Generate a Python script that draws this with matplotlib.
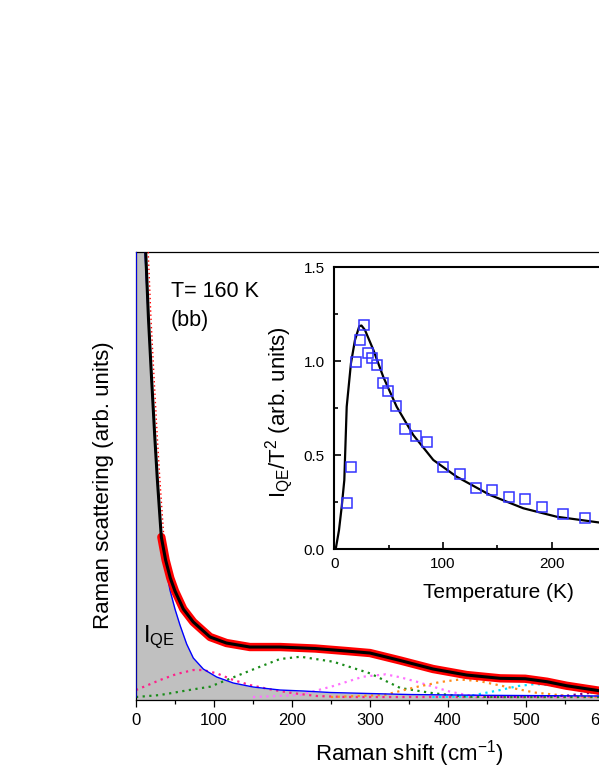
import matplotlib
matplotlib.use("Agg")
import matplotlib.pyplot as plt
import matplotlib.transforms as mtransforms
from matplotlib.ticker import MultipleLocator

plt.rcParams['font.family'] = ['Liberation Sans', 'DejaVu Sans']
plt.rcParams['mathtext.fontset'] = 'custom'
plt.rcParams['mathtext.rm'] = 'Liberation Sans'
plt.rcParams['mathtext.it'] = 'Liberation Sans:italic'
plt.rcParams['mathtext.bf'] = 'Liberation Sans:bold'

# ---- main panel: Raman spectrum at 160 K, (bb) ----
# quasi-elastic component I_QE
shift_qe = [0, 0.3, 11.5, 16, 20, 24, 27.3, 32.5, 38, 43.6, 50, 56.4, 65, 73.5, 86.3,
            103.5, 124.8, 150.4, 184.6, 215, 250, 300, 350, 450, 600, 700]
int_qe = [0.0, 4.60, 4.45, 3.77, 3.17, 2.60, 2.17, 1.60, 1.30, 1.07, 0.88, 0.72, 0.53, 0.39, 0.28,
          0.20, 0.14, 0.10, 0.07, 0.06, 0.045, 0.035, 0.025, 0.017, 0.01, 0.008]

# measured spectrum and total fit
shift_spec = [12.5, 16, 20, 24, 27.3, 32.5, 38, 44, 50, 60.7, 73.5, 95, 116, 146, 185, 230,
              270, 300, 339, 381, 424, 467, 499, 527, 552, 594, 620]
int_spec = [4.45, 3.79, 3.19, 2.62, 2.19, 1.60, 1.37, 1.19, 1.06, 0.88, 0.75, 0.60, 0.54, 0.50,
            0.50, 0.485, 0.46, 0.44, 0.365, 0.28, 0.22, 0.187, 0.183, 0.153, 0.113, 0.063, 0.04]
n_steep = 5  # first points on the steep flank, where the data are sparse

# phonon / excitation components (dotted)
shift_p1 = [0, 30.8, 52, 73.5, 86, 103.5, 124.8, 146, 171.8, 200, 232, 270, 700]
int_p1 = [0.07, 0.17, 0.23, 0.27, 0.27, 0.237, 0.17, 0.12, 0.077, 0.04, 0.01, 0.0, 0.0]

shift_p2 = [0, 30.8, 73.5, 94.9, 116.3, 137.6, 159, 184.6, 211, 253, 300, 339, 382, 425, 470, 700]
int_p2 = [0.0, 0.02, 0.077, 0.103, 0.17, 0.237, 0.303, 0.38, 0.403, 0.353, 0.237, 0.09, 0.037,
          0.003, 0.0, 0.0]

shift_p3 = [150, 210, 253, 291, 320, 339, 360, 381, 403, 424, 468, 700]
int_p3 = [0.0, 0.02, 0.11, 0.203, 0.227, 0.197, 0.153, 0.103, 0.053, 0.02, 0.0, 0.0]

shift_p4 = [250, 318, 361, 390, 415, 440, 467, 511, 554, 600, 700]
int_p4 = [0.0, 0.02, 0.103, 0.15, 0.175, 0.16, 0.115, 0.045, 0.01, 0.0, 0.0]

shift_p5 = [380, 424, 467, 490, 512, 535, 552, 575, 594, 620]
int_p5 = [0.0, 0.005, 0.07, 0.11, 0.13, 0.115, 0.095, 0.055, 0.025, 0.01]

shift_p6 = [450, 520, 554, 575, 595, 620]
int_p6 = [0.0, 0.005, 0.015, 0.035, 0.053, 0.08]

comp_colors = ['#ff1f8a', '#1a8c1a', '#ff70ff', '#ff8c1a', '#00e0ff', '#800080']

# ---- inset: I_QE / T^2 vs temperature ----
temp_data = [12, 15.6, 20, 23.6, 27.3, 30.7, 35, 39, 45, 49.6, 56.4, 65, 74.8, 85, 100.2,
             115.5, 130.5, 145, 160.3, 175.2, 190.6, 210.5, 230.7]
iqe_data = [0.243, 0.438, 0.994, 1.113, 1.193, 1.045, 1.019, 0.980, 0.886, 0.843, 0.763, 0.637,
            0.603, 0.568, 0.438, 0.398, 0.327, 0.316, 0.277, 0.268, 0.225, 0.188, 0.163]

temp_fit = [1.3, 4.3, 6.8, 9.2, 11.4, 15.3, 19, 23, 25, 28.2, 35.9, 45, 57.3, 72.6, 91, 112.5,
            143, 173.7, 204.4, 245]
iqe_fit = [0.0, 0.10, 0.225, 0.367, 0.758, 0.989, 1.113, 1.187, 1.19, 1.166, 1.06, 0.917, 0.758,
           0.607, 0.474, 0.385, 0.288, 0.217, 0.172, 0.140]


fig = plt.figure(figsize=(5.99, 7.76), dpi=100)
ax = fig.add_axes([0.2270, 0.0979, 0.9115, 0.5773])
ax.set_xlim(0, 700)
ax.set_ylim(-0.03, 4.45)

ax.fill_between(shift_qe, ax.get_ylim()[0], int_qe, color='#c0c0c0', lw=0, zorder=1)
comps = [(shift_p1, int_p1), (shift_p2, int_p2), (shift_p3, int_p3),
         (shift_p4, int_p4), (shift_p5, int_p5), (shift_p6, int_p6)]
for (xs, ys), c in zip(comps, comp_colors):
    ax.plot(xs, ys, color=c, lw=1.6, linestyle=(0, (1, 2)), zorder=2)
ax.plot(shift_qe, int_qe, color='#0000ff', lw=1.0, zorder=3)

# data: thin and sparse on the steep flank, a thick band elsewhere
shift_right = mtransforms.offset_copy(ax.transData, fig=fig, x=2.5, y=0, units='dots')
ax.plot(shift_spec[:n_steep + 1], int_spec[:n_steep + 1], color='#ff0000', lw=1.0,
        linestyle=(0, (1, 2)), transform=shift_right, zorder=4)
ax.plot(shift_spec[n_steep:], int_spec[n_steep:], color='#ff0000', lw=6,
        solid_joinstyle='round', solid_capstyle='round', zorder=4)
ax.plot(shift_spec, int_spec, color='black', lw=2.2, zorder=5)

ax.set_yticks([])
ax.xaxis.set_major_locator(MultipleLocator(100))
ax.xaxis.set_minor_locator(MultipleLocator(50))
ax.tick_params(axis='x', which='major', direction='out', length=5, width=0.9, pad=4.5, labelsize=12)
ax.tick_params(axis='x', which='minor', direction='out', length=3, width=0.9)
for s in ax.spines.values():
    s.set_linewidth(0.9)

ax.set_xlabel('Raman shift (cm$^{\\mathregular{-1}}$)', fontsize=16)
ax.xaxis.set_label_coords(0.5, -0.086)
ax.set_ylabel('Raman scattering (arb. units)', fontsize=16)
ax.yaxis.set_label_coords(-0.040, 0.48)

ax.text(0.064, 0.900, 'T= 160 K', transform=ax.transAxes, fontsize=15.5, va='baseline')
ax.text(0.064, 0.835, '(bb)', transform=ax.transAxes, fontsize=15.5, va='baseline')
ax.text(0.0128, 0.130, '$\\mathregular{I_{QE}}$', transform=ax.transAxes, fontsize=17, va='baseline')

# inset
axin = fig.add_axes([0.5581, 0.2925, 0.5449, 0.3630])
axin.set_xlim(0, 300)
axin.set_ylim(0, 1.5)
axin.plot(temp_fit, iqe_fit, color='black', lw=1.6, zorder=3)
axin.plot(temp_data, iqe_data, linestyle='none', marker='s', markersize=7.5,
          markerfacecolor='none', markeredgecolor='#3333ff', markeredgewidth=1.1, zorder=4)

axin.xaxis.set_major_locator(MultipleLocator(100))
axin.xaxis.set_minor_locator(MultipleLocator(50))
axin.yaxis.set_major_locator(MultipleLocator(0.5))
axin.yaxis.set_minor_locator(MultipleLocator(0.25))
axin.yaxis.set_major_formatter(plt.FormatStrFormatter('%.1f'))
axin.tick_params(which='major', direction='in', length=5, width=1.2, labelsize=11)
axin.tick_params(which='minor', direction='in', length=3, width=1.2)
axin.tick_params(axis='x', pad=6)
axin.tick_params(axis='y', pad=7)
for s in axin.spines.values():
    s.set_linewidth(1.5)

axin.set_xlabel('Temperature (K)', fontsize=15)
axin.xaxis.set_label_coords(0.502, -0.121)
axin.set_ylabel('I$_{\\mathregular{QE}}$/T$^{\\mathregular{2}}$ (arb. units)', fontsize=16)
axin.yaxis.set_label_coords(-0.12, 0.486)

fig.savefig('out.png', dpi=100)
